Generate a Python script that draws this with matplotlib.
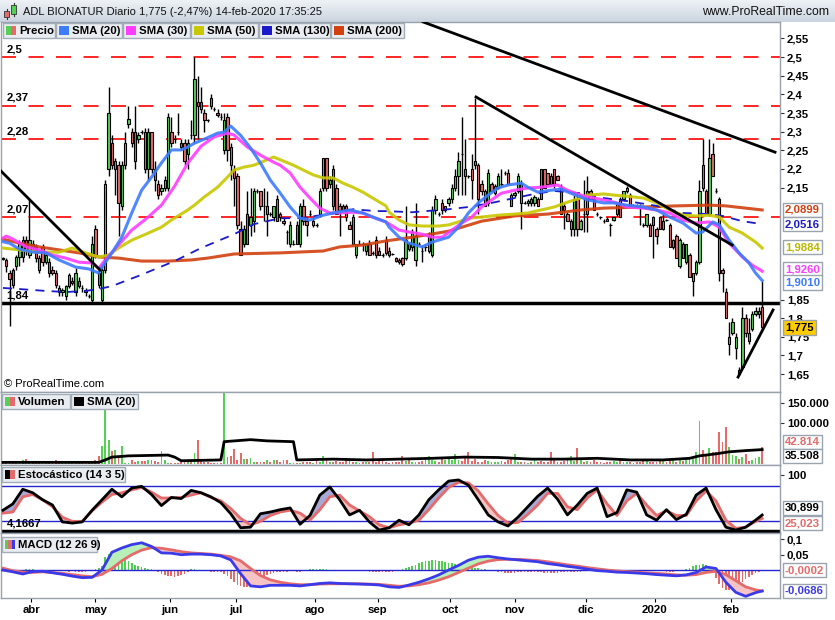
import numpy as np
import matplotlib
matplotlib.use("Agg")
import matplotlib.pyplot as plt
from matplotlib.patches import Rectangle
from matplotlib.colors import LinearSegmentedColormap

plt.rcParams['font.family'] = ['Liberation Sans', 'DejaVu Sans']

# ---------------- data ----------------
opens = [1.96,1.955,1.92,1.93,1.94,1.965,1.965,2.01,1.97,2.0,
         1.99,1.93,1.99,1.95,1.95,1.93,1.92,1.88,1.87,1.86,
         1.885,1.9,1.87,1.9,1.88,1.87,1.86,1.85,2.04,1.92,
         1.85,1.93,2.2,2.27,2.2,2.21,2.1,2.21,2.32,2.3,
         2.3,2.28,2.3,2.3,2.2,2.3,2.2,2.16,2.14,2.15,
         2.15,2.3,2.28,2.3,2.27,2.27,2.24,2.29,2.29,2.38,
         2.38,2.35,2.33,2.39,2.36,2.35,2.34,2.25,2.34,2.26,
         2.2,2.18,2.04,2.0,2.08,2.05,2.06,2.14,2.14,2.1,
         2.08,2.08,2.07,2.12,2.08,2.06,2.03,2.0,2.0,2.05,
         2.0,2.1,2.06,2.08,2.05,2.05,2.08,2.15,2.23,2.16,
         2.2,2.15,2.1,2.1,2.1,2.05,2.07,1.97,2.0,2.0,
         1.98,2.0,1.975,2.01,1.98,1.97,2.01,1.98,1.972,1.96,
         1.955,1.96,1.96,2.0,1.99,1.955,2.0,1.98,1.99,1.98,
         1.97,2.09,2.08,2.11,2.09,2.11,2.12,2.15,2.18,2.24,
         2.2,2.18,2.2,2.22,2.21,2.16,2.14,2.11,2.16,2.135,
         2.15,2.16,2.19,2.19,2.13,2.13,2.14,2.16,2.11,2.11,
         2.12,2.11,2.12,2.2,2.2,2.19,2.18,2.2,2.18,2.15,
         2.1,2.08,2.04,2.04,2.12,2.04,2.08,2.08,2.14,2.12,
         2.08,2.07,2.06,2.065,2.05,2.063,2.08,2.12,2.12,2.14,
         2.13,2.1,2.1,2.1,2.05,2.05,2.05,2.07,2.04,2.07,
         2.04,2.063,2.05,1.99,2.02,1.94,2.0,1.95,1.97,1.9,
         1.92,1.95,2.21,2.14,2.08,2.24,2.14,2.12,1.93,1.87,
         1.73,1.76,1.72,1.66,1.67,1.8,1.76,1.77,1.81,1.81,
         1.83]
highs = [1.965,1.96,1.93,1.935,1.97,2.01,2.02,2.02,2.12,2.01,
         2.0,1.97,2.0,1.975,1.96,1.94,1.93,1.89,1.88,1.89,
         1.92,1.91,1.935,1.91,1.89,1.88,1.865,2.02,2.05,1.94,
         1.94,2.17,2.42,2.29,2.23,2.22,2.22,2.3,2.37,2.31,
         2.37,2.3,2.305,2.31,2.31,2.3,2.22,2.17,2.16,2.18,
         2.35,2.34,2.29,2.35,2.28,2.28,2.28,2.33,2.5,2.45,
         2.42,2.36,2.335,2.4,2.365,2.36,2.35,2.35,2.35,2.27,
         2.21,2.19,2.06,2.05,2.14,2.15,2.15,2.145,2.14,2.15,
         2.14,2.085,2.1,2.13,2.085,2.07,2.035,2.06,2.01,2.06,
         2.11,2.12,2.07,2.09,2.07,2.055,2.15,2.23,2.23,2.18,
         2.21,2.16,2.11,2.105,2.105,2.06,2.08,2.0,2.01,2.005,
         2.0,2.01,1.98,2.02,1.99,1.975,2.02,1.99,1.975,1.965,
         1.96,1.965,2.1,2.005,2.04,2.11,2.005,1.995,2.0,2.03,
         2.1,2.13,2.085,2.12,2.1,2.125,2.16,2.2,2.245,2.34,
         2.28,2.185,2.24,2.39,2.215,2.17,2.145,2.2,2.165,2.16,
         2.19,2.2,2.195,2.2,2.135,2.14,2.19,2.17,2.115,2.12,
         2.125,2.13,2.125,2.2,2.2,2.19,2.19,2.2,2.185,2.16,
         2.11,2.085,2.065,2.13,2.13,2.065,2.17,2.18,2.145,2.13,
         2.085,2.075,2.065,2.07,2.055,2.07,2.11,2.125,2.14,2.155,
         2.135,2.105,2.105,2.105,2.055,2.08,2.055,2.075,2.045,2.075,
         2.08,2.065,2.055,2.012,2.025,2.015,2.005,2.0,1.975,1.92,
         1.955,2.17,2.28,2.145,2.28,2.27,2.15,2.125,1.935,1.88,
         1.79,1.8,1.76,1.67,1.83,1.81,1.8,1.82,1.83,1.83,
         1.90]
lows = [1.955,1.925,1.78,1.88,1.93,1.94,1.95,1.97,1.96,1.98,
        1.95,1.92,1.94,1.945,1.91,1.915,1.88,1.86,1.86,1.85,
        1.88,1.89,1.86,1.88,1.87,1.86,1.855,1.84,1.96,1.88,
        1.84,1.92,2.18,2.2,2.13,2.02,2.09,2.2,2.31,2.26,
        2.2,2.27,2.295,2.19,2.17,2.19,2.14,2.12,2.13,2.14,
        2.14,2.26,2.27,2.29,2.25,2.21,2.2,2.28,2.27,2.28,
        2.35,2.3,2.325,2.36,2.355,2.34,2.33,2.24,2.22,2.17,
        2.1,2.04,1.97,1.99,2.0,2.02,2.03,2.135,2.09,2.06,
        2.02,2.075,2.06,2.06,2.06,2.05,2.0,1.99,1.995,2.0,
        1.99,2.05,2.02,2.075,2.045,2.045,2.07,2.14,2.14,2.15,
        2.09,2.08,2.02,2.09,2.06,2.04,2.0,1.96,1.995,1.98,
        1.97,1.97,1.97,1.96,1.97,1.965,1.97,1.965,1.97,1.95,
        1.945,1.94,1.955,1.98,1.98,1.94,1.995,1.95,1.98,1.975,
        1.965,2.08,2.075,2.08,2.085,2.1,2.11,2.14,2.13,2.13,
        2.13,2.175,2.12,2.2,2.08,2.13,2.1,2.1,2.14,2.13,
        2.145,2.155,2.185,2.16,2.1,2.125,2.135,2.04,2.105,2.1,
        2.1,2.1,2.1,2.12,2.15,2.16,2.16,2.15,2.17,2.08,
        2.04,2.06,2.02,2.02,2.02,2.035,2.03,2.03,2.12,2.09,
        2.075,2.065,2.055,2.06,2.02,2.06,2.075,2.07,2.115,2.135,
        2.1,2.095,2.095,2.05,2.045,2.045,2.02,1.96,2.0,2.04,
        2.035,2.06,1.99,1.985,1.96,1.935,1.96,1.945,1.91,1.86,
        1.915,1.945,2.14,2.08,2.075,2.18,2.135,1.9,1.87,1.8,
        1.7,1.755,1.69,1.647,1.665,1.75,1.73,1.765,1.805,1.8,
        1.77]
closes = [1.958,1.94,1.905,1.89,1.965,2.0,2.01,1.98,2.01,1.99,
          1.96,1.96,1.95,1.97,1.92,1.92,1.89,1.87,1.875,1.885,
          1.915,1.895,1.92,1.885,1.88,1.875,1.86,2.0,1.97,1.89,
          1.93,2.16,2.35,2.21,2.22,2.11,2.21,2.27,2.335,2.27,
          2.22,2.29,2.3,2.2,2.3,2.2,2.17,2.13,2.15,2.17,
          2.34,2.27,2.28,2.3,2.26,2.22,2.27,2.29,2.44,2.37,
          2.36,2.33,2.33,2.37,2.36,2.345,2.34,2.33,2.25,2.21,
          2.175,2.05,1.97,2.04,2.0,2.07,2.14,2.14,2.1,2.1,
          2.1,2.08,2.1,2.06,2.07,2.055,2.03,2.05,2.0,2.0,
          2.1,2.06,2.05,2.08,2.06,2.05,2.14,2.23,2.15,2.17,
          2.1,2.08,2.09,2.09,2.07,2.04,2.0,2.0,2.0,2.0,
          2.0,1.97,1.975,1.97,1.97,1.97,1.974,1.97,1.972,1.953,
          1.95,1.945,2.01,1.985,2.03,2.02,2.0,1.98,1.99,2.02,
          2.09,2.12,2.08,2.09,2.1,2.12,2.15,2.18,2.22,2.24,
          2.18,2.18,2.17,2.21,2.12,2.14,2.1,2.19,2.14,2.155,
          2.18,2.16,2.19,2.16,2.1,2.135,2.18,2.11,2.11,2.115,
          2.11,2.125,2.1,2.12,2.15,2.16,2.16,2.16,2.17,2.08,
          2.09,2.06,2.06,2.12,2.04,2.06,2.08,2.14,2.12,2.09,
          2.08,2.07,2.06,2.06,2.05,2.07,2.11,2.07,2.14,2.15,
          2.1,2.1,2.1,2.1,2.05,2.08,2.02,2.05,2.02,2.04,
          2.06,2.063,1.99,2.01,1.96,2.01,1.96,2.0,1.91,1.92,
          1.95,2.14,2.15,2.08,2.23,2.18,2.14,1.92,1.92,1.8,
          1.75,1.79,1.75,1.65,1.8,1.76,1.74,1.81,1.82,1.82,
          1.775]
volumes_k = [3,3,6,3,6,6,10,13,3,2,
             2,3,2,2,2,3,10,2,2,3,
             2,2,3,2,2,2,6,6,10,20,
             45,135,60,33,35,18,45,3,2,10,
             4,7,7,7,10,11,7,4,33,10,
             3,3,3,2,4,4,6,11,28,60,
             7,4,4,2,2,2,2,950,18,20,
             37,10,28,12,13,15,6,4,6,6,
             11,4,10,10,4,10,10,3,3,2,
             2,5,4,6,3,8,5,20,10,6,
             4,8,5,4,12,8,4,6,3,5,
             6,4,30,6,8,10,5,3,4,6,
             4,20,8,12,6,5,4,8,15,20,
             10,8,6,12,10,15,10,25,10,8,
             20,30,8,12,6,5,10,8,6,4,
             5,8,6,10,12,25,6,4,5,3,
             4,10,6,8,5,6,30,12,4,6,
             8,10,20,8,40,12,6,8,5,10,
             6,4,3,6,5,8,4,12,6,5,
             4,3,4,6,8,10,6,4,6,8,
             10,6,8,10,6,12,8,10,12,12,
             30,105,35,25,40,30,30,80,55,90,
             42,22,20,12,18,25,8,10,14,18,
             42.814]
vsma_bars = [0,29,31,33,38,50,52,54,66,67,75,80,88,89,100,110,120,130,140,150,
             160,170,180,190,200,208,211,216,220,225,230]
vsma_vals = [4,4,10,17,20,22,17,8,10,55,60,57,55,10,12,10,12,14,17,16,
             12,12,14,10,10,14,20,25,30,33,35.508]

sma20_bars = [0,2,5,9,13,17,22,26,29,30,33,36,39,42,45,48,51,54,56,58,
              61,65,67,69,72,75,78,81,84,87,90,93,97,101,105,109,112,116,117,120,
              123,127,130,135,138,141,144,147,150,153,157,159,162,166,169,172,175,177,182,185,
              189,194,198,202,206,210,212,215,217,220,223,226,228,230]
sma20_vals = [2.005,2.001,1.985,1.977,1.975,1.956,1.937,1.932,1.921,1.937,1.975,2.017,2.082,2.143,2.178,2.216,2.251,2.251,2.259,2.269,
              2.280,2.296,2.299,2.315,2.290,2.256,2.216,2.170,2.135,2.098,2.068,2.063,2.076,2.084,2.090,2.082,2.071,2.058,2.044,2.017,
              2.001,1.991,2.004,2.017,2.044,2.082,2.109,2.130,2.149,2.157,2.162,2.151,2.138,2.143,2.146,2.135,2.125,2.117,2.109,2.109,
              2.103,2.098,2.090,2.071,2.055,2.028,2.031,2.058,2.050,2.009,1.975,1.948,1.921,1.901]
sma30_bars = [0,1,3,7,11,15,19,23,27,29,31,35,39,44,48,52,56,60,64,68,
              70,74,78,82,84,87,90,93,96,99,102,106,109,112,116,120,123,127,130,133,
              136,139,142,145,148,151,155,159,163,168,171,175,177,182,186,189,194,198,202,206,
              210,214,217,220,224,227,230]
sma30_vals = [2.015,2.020,2.012,1.991,1.983,1.969,1.961,1.950,1.948,1.934,1.956,1.996,2.036,2.071,2.103,2.154,2.216,2.261,2.286,2.296,
              2.291,2.259,2.237,2.218,2.210,2.189,2.151,2.122,2.095,2.082,2.082,2.084,2.082,2.071,2.058,2.036,2.031,2.025,2.017,2.017,
              2.036,2.055,2.071,2.098,2.117,2.135,2.143,2.149,2.151,2.157,2.143,2.130,2.125,2.117,2.109,2.098,2.095,2.090,2.082,2.063,
              2.055,2.058,2.044,2.001,1.964,1.942,1.926]
sma50_bars = [0,5,11,17,21,25,29,32,35,39,44,48,51,56,58,61,65,68,70,73,
              76,79,82,85,88,91,94,97,100,103,106,109,112,116,117,120,123,127,132,135,
              138,141,145,150,155,159,163,167,171,175,177,182,185,189,194,198,202,206,210,214,
              217,220,224,228,230]
sma50_vals = [1.988,1.983,1.977,1.977,1.988,1.975,1.964,1.969,1.988,2.009,2.028,2.044,2.063,2.090,2.103,2.125,2.151,2.178,2.197,2.205,
              2.210,2.221,2.232,2.221,2.210,2.197,2.184,2.176,2.176,2.162,2.151,2.138,2.122,2.101,2.084,2.063,2.050,2.047,2.047,2.050,
              2.058,2.068,2.071,2.076,2.079,2.082,2.090,2.098,2.111,2.122,2.130,2.133,2.130,2.127,2.122,2.109,2.090,2.076,2.074,2.076,
              2.071,2.044,2.028,2.004,1.988]
sma130_bars = [0,5,13,19,25,29,33,41,52,60,70,76,84,90,101,106,113,116,124,135,
               141,148,155,161,167,175,182,189,198,206,214,218,224,230]
sma130_vals = [1.881,1.878,1.873,1.870,1.873,1.878,1.886,1.913,1.953,1.988,2.025,2.052,2.068,2.068,2.082,2.092,2.087,2.087,2.084,2.092,
               2.098,2.109,2.122,2.133,2.141,2.135,2.122,2.114,2.101,2.082,2.079,2.074,2.060,2.052]
sma200_bars = [0,5,11,17,23,29,35,42,50,57,62,70,84,97,102,109,116,124,135,145,
               155,165,175,182,194,204,214,219,230]
sma200_vals = [2.012,2.001,1.991,1.983,1.975,1.964,1.961,1.953,1.953,1.956,1.961,1.972,1.975,1.980,1.991,1.996,2.007,2.017,2.033,2.060,
               2.074,2.079,2.090,2.095,2.098,2.101,2.103,2.101,2.090]

red_levels = [2.5, 2.37, 2.28, 2.07]
red_labels = ['2,5', '2,37', '2,28', '2,07']
support_level = 1.84
support_label = '1,84'
trend_x = [(-0.9, 29.4), (127.3, 233.9), (143.3, 220.9), (222.7, 233.3)]
trend_y = [(2.197, 1.929), (2.594, 2.245), (2.393, 1.996), (1.642, 1.822)]
price_ticks = [1.65, 1.7, 1.75, 1.8, 1.85, 2.15, 2.2, 2.25, 2.3, 2.35, 2.4, 2.45, 2.5, 2.55]

osc_bars = list(range(0, 229, 3)) + [230]
stoch_k = [39,50,75,69,57,48,19,17,19,39,
           57,75,62,77,80,66,47,61,59,73,
           69,62,52,33,9,10,33,36,40,43,
           15,30,65,79,57,31,39,19,5,9,
           22,14,31,57,74,89,91,82,57,31,
           19,12,27,45,63,77,58,31,48,68,
           77,28,35,74,70,31,22,40,23,32,
           65,77,40,10,5,10,22,30.899]
stoch_d = [34,36,62,66,57,45,27,20,20,38,
           53,66,69,74,78,70,60,60,61,65,
           69,61,55,42,25,14,20,30,36,39,
           34,22,40,62,65,48,38,28,14,9,
           14,17,22,40,60,78,87,86,72,50,
           30,17,18,32,48,68,68,45,40,60,
           74,50,30,55,68,48,30,38,30,30,
           55,72,55,22,8,10,20,25.023]
stoch_level = 4.1667
macd_line = [0.0,-0.006,-0.013,-0.005,-0.004,-0.009,-0.014,-0.02,-0.025,-0.024,
             0.0,0.058,0.072,0.083,0.089,0.077,0.056,0.055,0.05,0.052,
             0.052,0.05,0.046,0.033,-0.012,-0.052,-0.055,-0.05,-0.05,-0.05,
             -0.052,-0.048,-0.044,-0.042,-0.044,-0.045,-0.046,-0.047,-0.049,-0.055,
             -0.057,-0.049,-0.04,-0.029,-0.016,0.0,0.015,0.032,0.042,0.045,
             0.04,0.036,0.033,0.03,0.027,0.021,0.017,0.012,0.008,0.003,
             -0.002,-0.004,-0.007,-0.008,-0.01,-0.012,-0.015,-0.017,-0.019,-0.016,
             -0.008,0.01,0.005,-0.04,-0.073,-0.086,-0.074,-0.0686]
macd_signal = [0.006,-0.002,-0.007,-0.008,-0.006,-0.008,-0.011,-0.015,-0.019,-0.022,
               -0.014,0.005,0.03,0.05,0.065,0.073,0.071,0.066,0.06,0.056,
               0.054,0.052,0.048,0.043,0.03,0.005,-0.018,-0.032,-0.04,-0.045,
               -0.048,-0.048,-0.046,-0.045,-0.045,-0.045,-0.045,-0.046,-0.047,-0.05,
               -0.053,-0.052,-0.048,-0.042,-0.033,-0.022,-0.008,0.006,0.02,0.029,
               0.034,0.035,0.035,0.033,0.031,0.027,0.022,0.017,0.013,0.008,
               0.004,0.0,-0.003,-0.005,-0.007,-0.009,-0.011,-0.013,-0.016,-0.017,
               -0.015,-0.008,-0.004,-0.015,-0.035,-0.055,-0.065,-0.0684]
macd_hist = [0.002,0.001,-0.002,-0.003,-0.004,-0.003,-0.002,0.003,0.004,0.003,
             0.001,0.000,-0.001,-0.002,-0.001,-0.002,-0.003,-0.003,-0.004,-0.004,
             -0.005,-0.004,-0.005,-0.006,-0.005,-0.005,-0.004,-0.002,0.002,0.005,
             0.012,0.044,0.051,0.049,0.046,0.041,0.036,0.033,0.028,0.023,
             0.018,0.013,0.010,0.006,0.004,0.002,0.000,-0.006,-0.012,-0.016,
             -0.018,-0.020,-0.022,-0.020,-0.016,-0.012,-0.008,0.004,0.003,-0.002,
             -0.003,-0.004,-0.004,-0.005,-0.005,-0.006,-0.008,-0.012,-0.020,-0.030,
             -0.040,-0.048,-0.052,-0.054,-0.054,-0.048,-0.040,-0.032,-0.026,-0.020,
             -0.016,-0.012,-0.010,-0.008,-0.006,-0.005,-0.005,-0.004,-0.004,-0.005,
             -0.005,-0.004,-0.002,0.002,0.003,0.004,0.003,0.002,0.002,0.001,
             0.000,-0.001,-0.002,-0.002,-0.003,-0.003,-0.002,-0.002,-0.003,-0.004,
             -0.004,-0.005,-0.006,-0.006,-0.007,-0.008,-0.008,-0.007,-0.006,-0.004,
             -0.002,0.002,0.006,0.010,0.014,0.018,0.022,0.026,0.029,0.031,
             0.032,0.032,0.030,0.028,0.026,0.024,0.022,0.020,0.018,0.016,
             0.014,0.012,0.010,0.008,0.006,0.004,0.002,0.000,-0.002,-0.004,
             -0.006,-0.008,-0.010,-0.010,-0.010,-0.009,-0.008,-0.007,-0.006,-0.006,
             -0.006,-0.006,-0.007,-0.008,-0.009,-0.010,-0.010,-0.010,-0.009,-0.008,
             -0.008,-0.007,-0.006,-0.006,-0.005,-0.005,-0.004,-0.004,-0.004,-0.003,
             -0.003,-0.003,-0.003,-0.003,-0.003,-0.003,-0.003,-0.003,-0.003,-0.003,
             -0.003,-0.003,-0.004,-0.004,-0.004,-0.004,-0.004,-0.004,-0.004,-0.004,
             -0.004,-0.005,-0.005,-0.005,-0.004,-0.003,0.000,0.004,0.008,0.012,
             0.016,0.018,0.020,0.018,0.012,-0.005,-0.025,-0.045,-0.060,-0.065,
             -0.064,-0.060,-0.052,-0.045,-0.038,-0.030,-0.022,-0.015,-0.010,-0.005,
             -0.0002]

month_pos = [8.5, 28, 50.5, 70.5, 94.5, 113.5, 135.5, 155, 176.5, 197.5, 220.5]
month_labels = ['abr', 'may', 'jun', 'jul', 'ago', 'sep', 'oct', 'nov', 'dic', '2020', 'feb']

title = 'ADL BIONATUR Diario 1,775 (-2,47%) 14-feb-2020 17:35:25'

# ---------------- styles ----------------
GREEN = '#55d055'
RED = '#e56a6a'
C20, C30, C50, C130, C200 = '#3d7bff', '#ff3cff', '#c8c800', '#1a1ac8', '#d2400f'
SPINE = '#98a2ac'
LBL = dict(fontsize=8.2, fontweight='bold')

W, H = 835, 620
fig = plt.figure(figsize=(W / 100, H / 100), dpi=100)
fig.patch.set_facecolor('white')


def rect(x0, y0, x1, y1):
    return [x0 / W, 1 - y1 / H, (x1 - x0) / W, (y1 - y0) / H]


def fpatch(x0, y0, x1, y1, **kw):
    fig.patches.append(Rectangle((x0 / W, 1 - y1 / H), (x1 - x0) / W, (y1 - y0) / H,
                                 transform=fig.transFigure, **kw))


def legend_item(x0, y0, x1, y1, colors, label):
    fpatch(x0, y0, x1, y1, fc='#e9edf1', ec='#a3adb8', lw=1, zorder=20)
    n = len(colors)
    for k, c in enumerate(colors):
        fpatch(x0 + 3 + k * 10 / n, y0 + 3, x0 + 3 + (k + 1) * 10 / n, y1 - 3, fc=c, ec='none', zorder=21)
    fig.text((x0 + 16) / W, 1 - ((y0 + y1) / 2 + 0.5) / H, label, va='center', ha='left',
             zorder=22, **LBL)


def vbox(ax, val, txt, color, dy=0, face='white'):
    ax.annotate(txt, xy=(1, val), xycoords=('axes fraction', 'data'), xytext=(3.5, dy * 0.72),
                textcoords='offset points', va='center', ha='left', color=color,
                bbox=dict(boxstyle='square,pad=0.18', fc=face, ec='#9aa4ae', lw=1),
                zorder=10, annotation_clip=False, **LBL)


def style(ax):
    for s in ax.spines.values():
        s.set_color(SPINE)
        s.set_linewidth(1)
    ax.set_facecolor('white')
    ax.set_xlim(-0.6, 235.4)
    ax.yaxis.tick_right()
    ax.tick_params(axis='y', length=3, pad=2, width=0.8, color='#333333')
    ax.tick_params(axis='x', length=0)
    ax.set_xticks([])


def fmt(v):
    s = f"{v:.2f}".rstrip('0').rstrip('.')
    return s.replace('.', ',')


# title bar
ax_t = fig.add_axes(rect(0, 0, W, 22))
cm = LinearSegmentedColormap.from_list('t', ['#eef2f6', '#cbd5df'])
ax_t.imshow(np.linspace(0, 1, 40).reshape(-1, 1), aspect='auto', cmap=cm, extent=[0, 1, 0, 1])
ax_t.axis('off')
fig.text(23 / W, 1 - 12 / H, title, fontsize=8.0, va='center', ha='left', color='#111111')
fig.text(829 / W, 1 - 12 / H, 'www.ProRealTime.com', fontsize=8.8, va='center', ha='right', color='#111111')
# small candle icon
fig.lines.append(plt.Line2D([6.5 / W, 6.5 / W], [1 - 9 / H, 1 - 19 / H], transform=fig.transFigure, color='#333333', lw=0.8))
fpatch(4, 11, 9, 17, fc=RED, ec='#333333', lw=0.6, zorder=5)
fig.lines.append(plt.Line2D([13.5 / W, 13.5 / W], [1 - 3 / H, 1 - 16 / H], transform=fig.transFigure, color='#333333', lw=0.8))
fpatch(11, 5, 16, 14, fc=GREEN, ec='#333333', lw=0.6, zorder=5)

# ---------------- price panel ----------------
ax_p = fig.add_axes(rect(1, 22, 780, 392))
style(ax_p)
idx = np.arange(len(closes))
O, Hh, L, C = map(np.array, (opens, highs, lows, closes))
col = np.where(C > O, GREEN, RED)
for lvl, lab in zip(red_levels, red_labels):
    ax_p.axhline(lvl, color='#ff0000', lw=1.2, ls=(0, (9, 7.5)), zorder=1)
    ax_p.annotate(lab, xy=(0, lvl), xycoords=('axes fraction', 'data'), xytext=(4, 2),
                  textcoords='offset points', va='bottom', ha='left', **LBL)
ax_p.axhline(support_level, color='black', lw=2.5, zorder=2)
ax_p.annotate(support_label, xy=(0, support_level), xycoords=('axes fraction', 'data'), xytext=(4, 2),
              textcoords='offset points', va='bottom', ha='left', **LBL)
ax_p.vlines(idx, L, Hh, color='black', lw=1, zorder=3)
ax_p.bar(idx, C - O, bottom=O, width=0.72, color=col, edgecolor='black', linewidth=0.8, zorder=4)
ax_p.plot(sma200_bars, sma200_vals, color=C200, lw=2.2, alpha=0.9, zorder=5)
ax_p.plot(sma130_bars, sma130_vals, color=C130, lw=1.3, ls=(0, (5, 4)), zorder=5)
ax_p.plot(sma50_bars, sma50_vals, color=C50, lw=2.2, alpha=0.9, zorder=5)
ax_p.plot(sma30_bars, sma30_vals, color=C30, lw=2.2, alpha=0.9, zorder=5)
ax_p.plot(sma20_bars, sma20_vals, color=C20, lw=2.2, alpha=0.9, zorder=5)
for tx, ty in zip(trend_x, trend_y):
    ax_p.plot(tx, ty, color='black', lw=2, zorder=6)
ax_p.set_ylim(1.602, 2.594)
ax_p.set_yticks(price_ticks, [fmt(t) for t in price_ticks], **LBL)
ax_p.text(0.004, 0.008, '\u00a9 ProRealTime.com', transform=ax_p.transAxes, fontsize=8, va='bottom', ha='left')
vbox(ax_p, sma200_vals[-1], '2,0899', C200, 0)
vbox(ax_p, sma130_vals[-1], '2,0516', C130, 0)
vbox(ax_p, sma50_vals[-1], '1,9884', '#b8b800', 1)
vbox(ax_p, sma30_vals[-1], '1,9260', C30, 2)
vbox(ax_p, sma20_vals[-1], '1,9010', C20, -2)
vbox(ax_p, closes[-1], '1,775', 'black', 0, face='#ffcc00')

# ---------------- volume ----------------
ax_v = fig.add_axes(rect(1, 392, 780, 465))
style(ax_v)
ax_v.bar(idx, volumes_k, width=0.55, color=col, zorder=2)
ax_v.plot(vsma_bars, vsma_vals, color='black', lw=2, zorder=3)
ax_v.set_ylim(-2.5, 177.5)
ax_v.set_yticks([100, 150], ['100.000', '150.000'], **LBL)
vbox(ax_v, volumes_k[-1], '42.814', RED, 5)
vbox(ax_v, vsma_vals[-1], '35.508', 'black', -6)

# ---------------- stochastic ----------------
ax_s = fig.add_axes(rect(1, 465, 780, 533))
style(ax_s)
sx = np.array(osc_bars)
K = np.array(stoch_k, dtype=float)
D = np.array(stoch_d, dtype=float)
ax_s.fill_between(sx, K, D, where=K >= D, interpolate=True, color='#a9a9d6', lw=0, zorder=1)
ax_s.fill_between(sx, K, D, where=K < D, interpolate=True, color='#f6c4c4', lw=0, zorder=1)
ax_s.axhline(80, color='#2424d0', lw=1, zorder=2)
ax_s.axhline(20, color='#2424d0', lw=1, zorder=2)
ax_s.axhline(stoch_level, color='black', lw=2.5, zorder=2)
ax_s.plot(sx, D, color=RED, lw=2, zorder=3)
ax_s.plot(sx, K, color='black', lw=2, zorder=4)
ax_s.annotate('4,1667', xy=(0, stoch_level), xycoords=('axes fraction', 'data'), xytext=(4, 1.5),
              textcoords='offset points', va='bottom', ha='left', zorder=6, **LBL)
ax_s.set_ylim(0, 116.6)
ax_s.set_yticks([100], ['100'], **LBL)
vbox(ax_s, stoch_k[-1], '30,899', 'black', 7)
vbox(ax_s, stoch_d[-1], '25,023', RED, -4.6)

# ---------------- MACD ----------------
ax_m = fig.add_axes(rect(1, 533, 780, 598))
style(ax_m)
hist = np.array(macd_hist)
ax_m.bar(idx, hist, width=0.5, color=np.where(hist >= 0, '#4fcf4f', RED), zorder=1)
M = np.array(macd_line)
S = np.array(macd_signal)
ax_m.fill_between(sx, M, S, where=M >= S, interpolate=True, color='#b8efb8', lw=0, zorder=2)
ax_m.fill_between(sx, M, S, where=M < S, interpolate=True, color='#f6c4c4', lw=0, zorder=2)
ax_m.axhline(0, color='#2424d0', lw=1, zorder=3)
ax_m.plot(sx, S, color=RED, lw=2, zorder=4)
ax_m.plot(sx, M, color='#3a3ae8', lw=2, zorder=5)
ax_m.set_ylim(-0.0915, 0.121)
ax_m.set_yticks([0.05, 0.1], ['0,05', '0,1'], **LBL)
ax_m.set_xticks(month_pos, month_labels, **LBL)
ax_m.tick_params(axis='x', length=3, pad=2, width=0.8)
vbox(ax_m, macd_hist[-1], '-0,0002', RED, 0)
vbox(ax_m, macd_line[-1], '-0,0686', '#3a3ae8', 0)

# ---------------- legends ----------------
legend_item(3, 23, 55, 38, [GREEN, RED], 'Precio')
legend_item(56, 23, 122, 38, [C20], 'SMA (20)')
legend_item(123, 23, 190, 38, [C30], 'SMA (30)')
legend_item(191, 23, 258, 38, [C50], 'SMA (50)')
legend_item(259, 23, 330, 38, [C130], 'SMA (130)')
legend_item(331, 23, 404, 38, [C200], 'SMA (200)')
legend_item(2, 394, 70, 409, [GREEN, RED], 'Volumen')
legend_item(71, 394, 138, 409, ['black'], 'SMA (20)')
legend_item(2, 467, 125, 482, ['black', RED], 'Estocástico (14 3 5)')
legend_item(2, 537, 97, 552, [GREEN, RED, '#3a3ae8'], 'MACD (12 26 9)')

fig.savefig('out.png', dpi=100, facecolor='white')
